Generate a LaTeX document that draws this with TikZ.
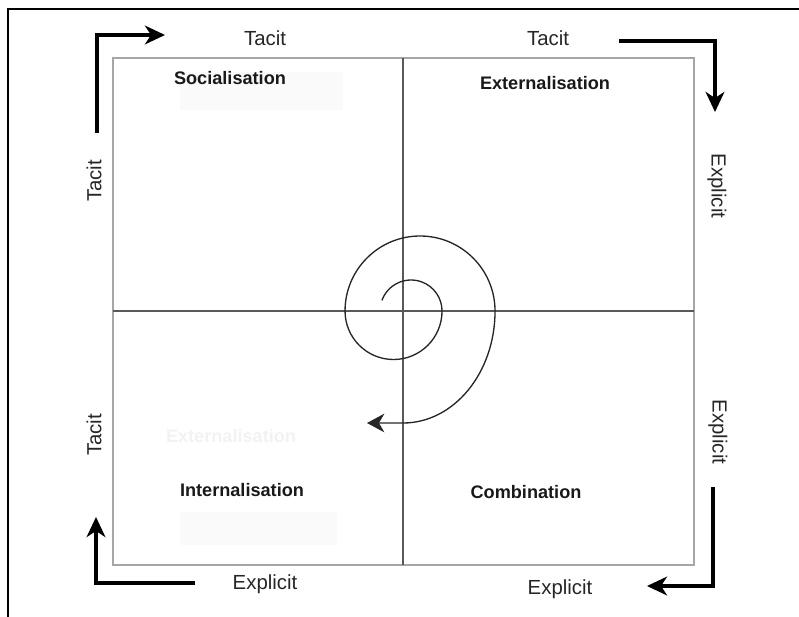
\documentclass[tikz,border=0pt]{standalone}
\usepackage{fontspec}
\setmainfont{Liberation Sans}
\usetikzlibrary{arrows.meta}
\begin{document}
\begin{tikzpicture}[x=0.75pt,y=-0.75pt,
  axislbl/.style={font=\fontsize{15.3pt}{18pt}\selectfont, text=black!85, inner sep=0pt},
  modelbl/.style={font=\bfseries\fontsize{13.6pt}{16pt}\selectfont, text=black!90, inner sep=0pt},
  ghost/.style={font=\bfseries\fontsize{13.6pt}{16pt}\selectfont, text=black!5, inner sep=0pt},
  flow/.style={line width=2.8pt, black, -{Stealth[length=15pt,width=14pt,inset=4.5pt]}},
  spiral/.style={line width=1pt, black!85, -{Stealth[length=13pt,width=14pt,inset=4pt]}},
  boxline/.style={line width=1.1pt, black!35},
  crossline/.style={line width=0.9pt, black!65},
  frame/.style={line width=2.2pt, black},
  faint/.style={fill=black!2, draw=none}]
\useasboundingbox (0,0) rectangle (799,617);
% outer frame (cut by the image edges)
\draw[frame] (8,620) -- (8,9) -- (802,9);
% faint background patches
\fill[faint] (180,72) rectangle (343,110);
\fill[faint] (180,512) rectangle (337,545);
% square and cross
\draw[boxline] (113,58) rectangle (694,565);
\coordinate (vt) at (403,58);
\coordinate (vb) at (403,565);
\coordinate (hl) at (113,311);
\coordinate (hr) at (694,311);
\draw[crossline] (vt) -- (vb);
\draw[crossline] (hl) -- (hr);
% quadrant labels
\node[modelbl] (soc) at (230,78) {Socialisation};
\node[modelbl] (ext) at (545,83) {Externalisation};
\node[modelbl] (int) at (242,490) {Internalisation};
\node[modelbl] (com) at (526,492) {Combination};
\node[ghost] (gh) at (231,436) {Externalisation};
% axis labels
\node[axislbl] (t1) at (265,38) {Tacit};
\node[axislbl] (t2) at (548,38) {Tacit};
\node[axislbl, rotate=90] (t3) at (94,181) {Tacit};
\node[axislbl, rotate=90] (t4) at (94,435) {Tacit};
\node[axislbl, rotate=-90] (e1) at (717,186) {Explicit};
\node[axislbl, rotate=-90] (e2) at (718,432) {Explicit};
\node[axislbl] (e3) at (265,584) {Explicit};
\node[axislbl] (e4) at (560,589) {Explicit};
% bent arrows
\coordinate (a1s) at (97,133);
\coordinate (a1e) at (165,35);
\draw[flow] (a1s) |- (a1e);
\coordinate (a2s) at (619,41);
\coordinate (a2e) at (715,112);
\draw[flow] (a2s) -| (a2e);
\coordinate (a3s) at (713,487);
\coordinate (a3e) at (647,586);
\draw[flow] (a3s) |- (a3e);
\coordinate (a4s) at (195,583);
\coordinate (a4e) at (96,517);
\draw[flow] (a4s) -| (a4e);
% spiral
\coordinate (sp0) at (381.9,300.4);
\coordinate (spe) at (367,423);
\draw[spiral] (sp0) arc[start angle=200,end angle=360,radius=31]
  arc[start angle=0,end angle=180,radius=48.5]
  arc[start angle=180,end angle=360,radius=75]
  arc[start angle=0,end angle=90,x radius=92,y radius=112] -- (spe);
\end{tikzpicture}
\end{document}
